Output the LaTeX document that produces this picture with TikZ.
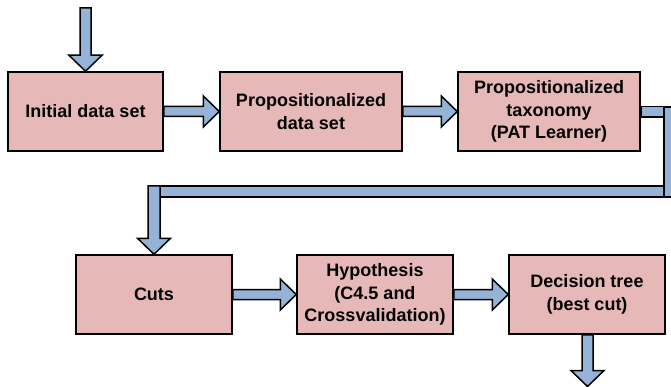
\documentclass[tikz,border=0pt]{standalone}
\usepackage{fontspec}
\setmainfont{Liberation Sans}
\usetikzlibrary{calc}
\definecolor{boxfill}{HTML}{E6B9B8}
\definecolor{arrfill}{HTML}{95B3D7}
\newcommand{\harrow}[2]{\filldraw[arr] let \p1=(#1), \p2=(#2) in
  (\x1,\y1+5pt) -- (\x2-16pt,\y1+5pt) -- (\x2-16pt,\y1+15.5pt) -- (\x2,\y1) --
  (\x2-16pt,\y1-15.5pt) -- (\x2-16pt,\y1-5pt) -- (\x1,\y1-5pt) -- cycle;}
\newcommand{\varrow}[3]{\filldraw[arr] let \p1=(#1), \p2=(#2) in
  (\x2-#3,\y1) -- (\x2-#3,\y2+16pt) -- (\x2-16.5pt,\y2+16pt) -- (\x2,\y2) --
  (\x2+16.5pt,\y2+16pt) -- (\x2+#3,\y2+16pt) -- (\x2+#3,\y1) -- cycle;}
\begin{document}
\begin{tikzpicture}[x=1pt,y=-1pt,
  box/.style={draw=black, line width=1.5pt, fill=boxfill, minimum height=79pt,
    align=center, inner sep=0pt, font=\bfseries\fontsize{18}{22.5}\selectfont},
  arr/.style={draw=black, line width=1.5pt, fill=arrfill, line join=miter}]
\useasboundingbox (0,0) rectangle (671,387);
% nodes
\node[box, minimum width=155pt] (n1) at (85.5,111.5) {Initial data set};
\node[box, minimum width=182pt] (n2) at (311,111.5) {Propositionalized\\data set};
\node[box, minimum width=182pt] (n3) at (549,111.5) {Propositionalized\\taxonomy\\(PAT Learner)};
\node[box, minimum width=156pt] (n4) at (154,294.5) {Cuts};
\node[box, minimum width=156pt] (n5) at (375,294.5) {Hypothesis\\(C4.5 and\\Crossvalidation)};
\node[box, minimum width=156pt] (n6) at (587,294.5) {Decision tree\\(best cut)};
% free ends and corners
\coordinate (in) at (85.5,8);
\coordinate (out) at (587.5,386.5);
\coordinate (c1) at (670,111.5);
\coordinate (c2) at (670,191.5);
\coordinate (c3) at (154,191.5);
% connectors
\varrow{in}{n1.north}{5.5pt}
\harrow{n1.east}{n2.west}
\harrow{n2.east}{n3.west}
\filldraw[arr] ($(n3.east)+(0,-5)$) rectangle ($(c1)+(0,5.5)$);
\filldraw[arr] ($(c3)+(0,-5.5)$) rectangle ($(c2)+(0,5.5)$);
\filldraw[arr] ($(c1)+(-6,-4.5)$) rectangle ($(c2)+(6,5.5)$);
\varrow{$(c3)+(0,-5.5)$}{n4.north}{6pt}
\harrow{n4.east}{n5.west}
\harrow{n5.east}{n6.west}
\varrow{n6.south}{out}{5.5pt}
\end{tikzpicture}
\end{document}
